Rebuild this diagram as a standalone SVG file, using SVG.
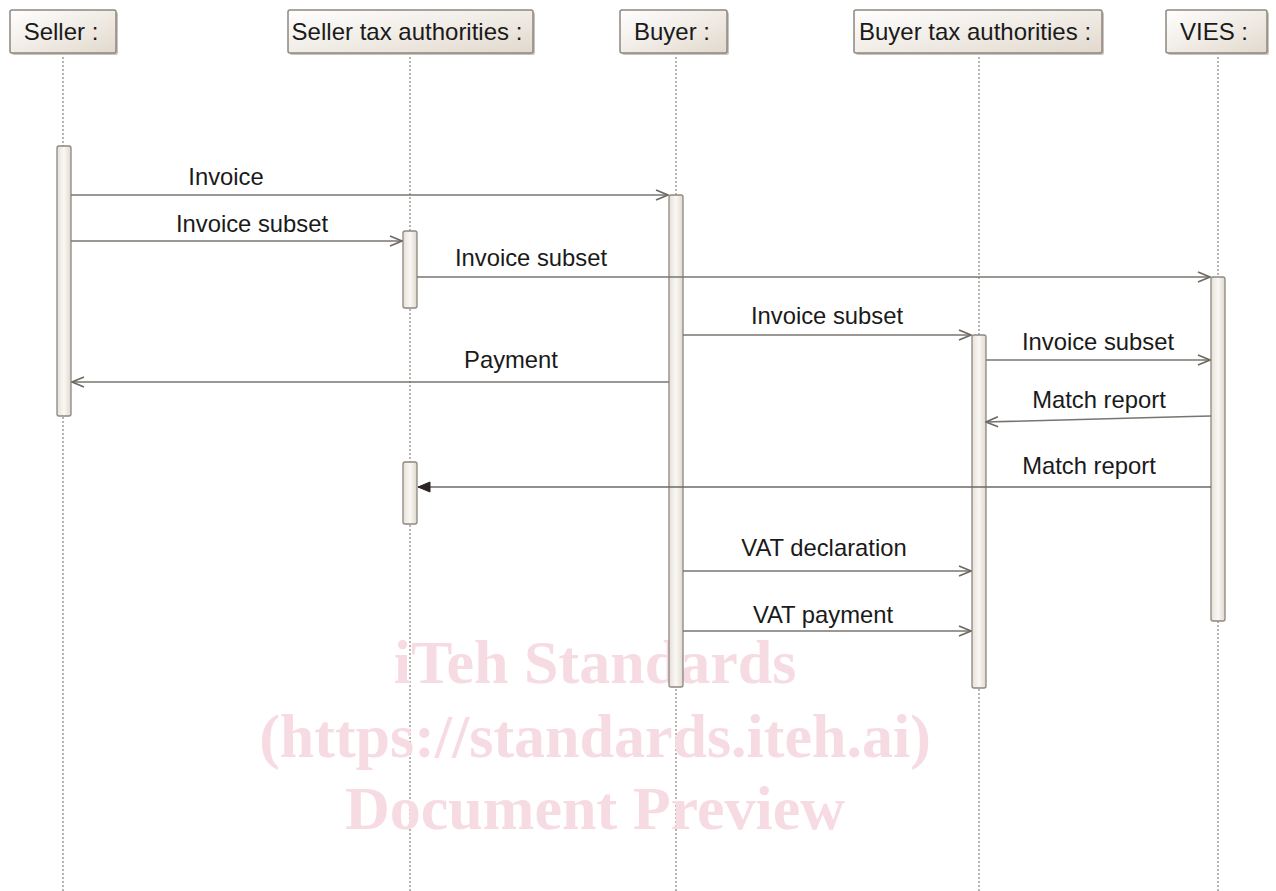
<svg xmlns="http://www.w3.org/2000/svg" width="1276" height="891" viewBox="0 0 1276 891">
<defs>
<linearGradient id="hg" x1="0" y1="0" x2="1" y2="1">
<stop offset="0" stop-color="#ffffff"/>
<stop offset="1" stop-color="#e2d9cd"/>
</linearGradient>
<linearGradient id="ag" x1="0" y1="0" x2="1" y2="0">
<stop offset="0" stop-color="#e6dfd6"/>
<stop offset="0.5" stop-color="#faf8f5"/>
<stop offset="1" stop-color="#e0d8ce"/>
</linearGradient>
<marker id="open" markerWidth="14" markerHeight="12" refX="13" refY="6" orient="auto" markerUnits="userSpaceOnUse">
<path d="M1,1 L13,6 L1,11" fill="none" stroke="#6e6862" stroke-width="1.6"/>
</marker>
<marker id="filled" markerWidth="14" markerHeight="12" refX="13" refY="6" orient="auto" markerUnits="userSpaceOnUse">
<path d="M1,1 L13,6 L1,11 Z" fill="#2a2522" stroke="#2a2522" stroke-width="1"/>
</marker>
</defs>
<style>
.head{fill:url(#hg);stroke:#8d8780;stroke-width:1.5}
.shadow{fill:#c9c4be}
.ht{font-family:"Liberation Sans",Arial,sans-serif;font-size:24px;fill:#1a1a1a;text-anchor:middle}
.life{stroke:#9a9590;stroke-width:1.4;stroke-dasharray:2 2;fill:none}
.act{fill:url(#ag);stroke:#8d8780;stroke-width:1.3}
.msg{stroke:#7a746e;stroke-width:1.6;fill:none;marker-end:url(#open)}
.msgf{stroke:#6e6862;stroke-width:1.6;fill:none;marker-end:url(#filled)}
.mt{font-family:"Liberation Sans",Arial,sans-serif;font-size:23.8px;fill:#1a1a1a;text-anchor:middle}
.wm{font-family:"Liberation Serif","Times New Roman",serif;font-weight:bold;font-size:62px;fill:#f7dbe3;text-anchor:middle}
</style>
<rect width="1276" height="891" fill="#ffffff"/>
<g id="lifelines">
<line class="life" x1="63" y1="53" x2="63" y2="891"/>
<line class="life" x1="410" y1="53" x2="410" y2="891"/>
<line class="life" x1="676" y1="53" x2="676" y2="891"/>
<line class="life" x1="979" y1="53" x2="979" y2="891"/>
<line class="life" x1="1218" y1="53" x2="1218" y2="891"/>
</g>
<g id="watermark">
<text class="wm" x="595" y="683">iTeh Standards</text>
<text class="wm" x="595" y="757">(https://standards.iteh.ai)</text>
<text class="wm" x="595" y="829">Document Preview</text>
</g>
<g id="seller">
<rect class="shadow" x="12" y="12" width="106" height="43" rx="2"/>
<rect class="head" x="10" y="10" width="106" height="43" rx="2"/>
<text class="ht" x="61" y="40">Seller :</text>
<rect class="act" x="57" y="146" width="14" height="270" rx="2"/>
</g>
<g id="seller-tax">
<rect class="shadow" x="290" y="12" width="245" height="43" rx="2"/>
<rect class="head" x="288" y="10" width="245" height="43" rx="2"/>
<text class="ht" x="407" y="40">Seller tax authorities :</text>
<rect class="act" x="403" y="231" width="14" height="77" rx="2"/>
<rect class="act" x="403" y="462" width="14" height="62" rx="2"/>
</g>
<g id="buyer">
<rect class="shadow" x="622" y="12" width="107" height="43" rx="2"/>
<rect class="head" x="620" y="10" width="107" height="43" rx="2"/>
<text class="ht" x="672" y="40">Buyer :</text>
<rect class="act" x="669" y="195" width="14" height="492" rx="2"/>
</g>
<g id="buyer-tax">
<rect class="shadow" x="856" y="12" width="248" height="43" rx="2"/>
<rect class="head" x="854" y="10" width="248" height="43" rx="2"/>
<text class="ht" x="975" y="40">Buyer tax authorities :</text>
<rect class="act" x="972" y="335" width="14" height="353" rx="2"/>
</g>
<g id="vies">
<rect class="shadow" x="1168" y="12" width="101" height="43" rx="2"/>
<rect class="head" x="1166" y="10" width="101" height="43" rx="2"/>
<text class="ht" x="1214" y="40">VIES :</text>
<rect class="act" x="1211" y="277" width="14" height="344" rx="2"/>
</g>
<g id="connectors">
<line class="msg" x1="71" y1="195" x2="668" y2="195"/>
<line class="msg" x1="71" y1="241" x2="402" y2="241"/>
<line class="msg" x1="417" y1="277" x2="1210" y2="277"/>
<line class="msg" x1="683" y1="335" x2="971" y2="335"/>
<line class="msg" x1="669" y1="382" x2="72" y2="382"/>
<line class="msg" x1="986" y1="360" x2="1210" y2="360"/>
<polyline class="msg" points="1211,416 1190,416.5 986,422"/>
<line class="msgf" x1="1211" y1="487" x2="418" y2="487"/>
<line class="msg" x1="683" y1="571" x2="971" y2="571"/>
<line class="msg" x1="683" y1="631" x2="971" y2="631"/>
</g>
<g id="labels">
<text class="mt" x="226" y="185">Invoice</text>
<text class="mt" x="252" y="232">Invoice subset</text>
<text class="mt" x="531" y="266">Invoice subset</text>
<text class="mt" x="827" y="324">Invoice subset</text>
<text class="mt" x="511" y="368">Payment</text>
<text class="mt" x="1098" y="350">Invoice subset</text>
<text class="mt" x="1099" y="408">Match report</text>
<text class="mt" x="1089" y="474">Match report</text>
<text class="mt" x="824" y="556">VAT declaration</text>
<text class="mt" x="823" y="623">VAT payment</text>
</g>
</svg>
